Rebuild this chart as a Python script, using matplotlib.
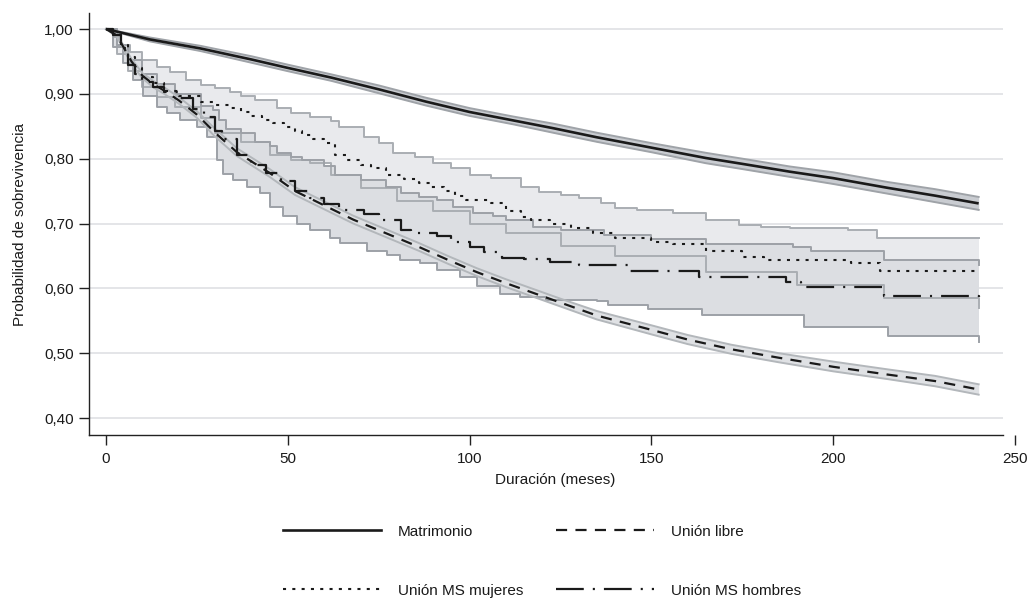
import numpy as np
import matplotlib
matplotlib.use("Agg")
import matplotlib.pyplot as plt
from matplotlib.lines import Line2D

plt.rcParams['font.family'] = ['Liberation Sans', 'DejaVu Sans']
plt.rcParams['lines.scale_dashes'] = False

# Matrimonio (solid) with its confidence band
mat_t = [0, 12, 26, 40, 50, 62, 75, 88, 100, 112, 123, 135, 150, 165, 175, 188, 200, 215, 228, 240]
mat_v = [1.0, 0.984, 0.970, 0.953, 0.94, 0.925, 0.907, 0.888, 0.872, 0.859, 0.847, 0.833, 0.817,
         0.801, 0.792, 0.78, 0.77, 0.755, 0.743, 0.731]
mat_hi = [1.0, 0.987, 0.974, 0.958, 0.945, 0.930, 0.913, 0.894, 0.878, 0.865, 0.854, 0.840, 0.824,
          0.809, 0.800, 0.788, 0.779, 0.764, 0.753, 0.741]
mat_lo = [1.0, 0.981, 0.966, 0.948, 0.935, 0.920, 0.901, 0.882, 0.866, 0.853, 0.840, 0.826, 0.810,
          0.793, 0.784, 0.772, 0.761, 0.746, 0.733, 0.721]

# Union libre (dashed)
lib_t = [0, 3, 5, 7, 10, 13, 16, 20, 25, 30, 36, 45, 52, 60, 68, 77, 86, 94, 102, 110, 118, 125,
         135, 150, 160, 172, 185, 200, 215, 228, 240]
lib_v = [1.0, 0.99, 0.97, 0.95, 0.928, 0.915, 0.905, 0.89, 0.868, 0.84, 0.81, 0.778, 0.75, 0.728,
         0.706, 0.685, 0.664, 0.644, 0.625, 0.608, 0.592, 0.578, 0.558, 0.536, 0.521, 0.506, 0.493,
         0.479, 0.467, 0.457, 0.444]
lib_hi = [1.0, 0.992, 0.973, 0.954, 0.932, 0.920, 0.910, 0.895, 0.873, 0.846, 0.816, 0.784, 0.756,
          0.734, 0.712, 0.691, 0.670, 0.650, 0.631, 0.614, 0.598, 0.584, 0.565, 0.543, 0.528, 0.513,
          0.500, 0.487, 0.475, 0.465, 0.452]
lib_lo = [1.0, 0.988, 0.967, 0.946, 0.924, 0.910, 0.900, 0.885, 0.863, 0.834, 0.804, 0.772, 0.744,
          0.722, 0.700, 0.679, 0.658, 0.638, 0.619, 0.602, 0.586, 0.572, 0.552, 0.529, 0.514, 0.499,
          0.486, 0.472, 0.460, 0.449, 0.436]

# Union MS mujeres (dotted), step curve
muj_t = [0, 2, 4, 6, 8, 10, 13, 16, 20, 26, 30, 34, 37, 40, 43, 46, 49, 52, 54, 57, 60, 63, 66, 70,
         73, 77, 82, 86, 89, 93, 96, 99, 106, 110, 114, 117, 122, 128, 134, 140, 150, 156, 165, 175,
         181, 205, 213, 240]
muj_v = [1.0, 0.99, 0.975, 0.957, 0.94, 0.926, 0.916, 0.905, 0.897, 0.888, 0.883, 0.878, 0.872,
         0.866, 0.86, 0.855, 0.849, 0.843, 0.837, 0.83, 0.824, 0.806, 0.798, 0.79, 0.785, 0.775,
         0.768, 0.762, 0.757, 0.75, 0.742, 0.737, 0.732, 0.72, 0.71, 0.705, 0.70, 0.693, 0.685,
         0.678, 0.672, 0.668, 0.657, 0.649, 0.644, 0.639, 0.626, 0.626]
muj_hi_t = [0, 2, 4, 6.6, 10, 14, 17.6, 22, 26, 30, 34, 37, 41, 47, 51, 56, 62, 64, 71, 75, 79, 85,
            90, 95, 100, 106, 114, 119, 125, 130, 136, 140, 146, 156, 165, 174, 180, 188, 204, 212, 240]
muj_hi = [1.0, 0.988, 0.975, 0.964, 0.952, 0.942, 0.933, 0.922, 0.914, 0.909, 0.903, 0.896, 0.891,
          0.878, 0.870, 0.865, 0.858, 0.849, 0.834, 0.824, 0.808, 0.803, 0.793, 0.785, 0.775, 0.770,
          0.757, 0.749, 0.744, 0.739, 0.731, 0.724, 0.721, 0.716, 0.705, 0.698, 0.695, 0.693, 0.690,
          0.677, 0.677]
muj_lo_t = [0, 3, 6, 10, 14, 19, 26, 30, 37, 45, 51, 56, 62, 70, 80, 90, 100, 110, 125, 140, 165,
            190, 214, 240]
muj_lo = [1.0, 0.962, 0.935, 0.91, 0.895, 0.88, 0.862, 0.84, 0.825, 0.805, 0.798, 0.794, 0.775,
          0.755, 0.735, 0.72, 0.70, 0.685, 0.665, 0.65, 0.625, 0.605, 0.585, 0.57]

# Union MS hombres (long dash - dot), step curve
hom_t = [0, 2, 4, 6, 8, 10, 13, 16, 20, 24, 27, 30, 32, 36, 40, 44, 48, 52, 56, 60, 64, 71, 75, 81,
         84, 91, 95, 100, 104, 109, 115, 122, 130, 144, 163, 187, 191, 214, 240]
hom_v = [1.0, 0.99, 0.97, 0.945, 0.93, 0.918, 0.91, 0.903, 0.893, 0.877, 0.865, 0.843, 0.83, 0.805,
         0.79, 0.778, 0.765, 0.75, 0.74, 0.73, 0.721, 0.714, 0.705, 0.69, 0.685, 0.68, 0.672, 0.664,
         0.656, 0.647, 0.645, 0.64, 0.636, 0.627, 0.617, 0.61, 0.602, 0.588, 0.582]
hom_hi_t = [0, 3, 6, 10, 14, 19, 26, 29.5, 31, 33, 37, 41, 45, 47, 51, 54, 60, 63, 70, 77, 81, 86,
            91, 95.5, 101, 106.5, 110, 117.5, 125, 137, 150, 165, 189, 194, 214, 240]
hom_hi = [1.0, 0.975, 0.952, 0.93, 0.915, 0.9, 0.882, 0.875, 0.86, 0.846, 0.839, 0.826, 0.819,
          0.808, 0.803, 0.798, 0.788, 0.775, 0.767, 0.757, 0.747, 0.741, 0.736, 0.726, 0.716, 0.711,
          0.705, 0.695, 0.69, 0.682, 0.676, 0.668, 0.664, 0.657, 0.644, 0.636]
hom_lo_t = [0, 2, 4.8, 7.5, 10.3, 13.9, 16.7, 20.4, 24.9, 27.7, 30.4, 32.3, 35, 38.7, 42.4, 45.1,
            48.8, 52.4, 56.1, 61.6, 64.4, 71.7, 77.2, 80.9, 86.4, 90.9, 97.4, 102, 108.4, 113.9,
            121, 135, 138, 149, 164, 192, 215, 240]
hom_lo = [1.0, 0.973, 0.947, 0.921, 0.896, 0.88, 0.87, 0.86, 0.849, 0.834, 0.798, 0.777, 0.767,
          0.757, 0.747, 0.726, 0.711, 0.70, 0.69, 0.677, 0.67, 0.657, 0.651, 0.644, 0.639, 0.628,
          0.618, 0.603, 0.592, 0.587, 0.582, 0.58, 0.575, 0.568, 0.559, 0.541, 0.526, 0.518]

labels = ['Matrimonio', 'Unión MS mujeres', 'Unión libre', 'Unión MS hombres']
yticks = [0.40, 0.50, 0.60, 0.70, 0.80, 0.90, 1.00]
xticks = [0, 50, 100, 150, 200, 250]

BLACK = '#1a1a1a'
ST_DASH = (0, (8, 6))
ST_DOT = (0, (2.2, 4.5))
ST_DDOT = (0, (20, 6.5, 1.5, 6.5))
FS = 11


def step_at(ts, vs, grid):
    idx = np.searchsorted(ts, grid, side='right') - 1
    return np.asarray(vs)[idx]


def step_band(ax, lo_t, lo, hi_t, hi, fill, edge):
    grid = np.union1d(lo_t, hi_t)
    ax.fill_between(grid, step_at(lo_t, lo, grid), step_at(hi_t, hi, grid),
                    step='post', color=fill, lw=0)
    ax.step(lo_t, lo, where='post', color=edge, lw=1.4)
    ax.step(hi_t, hi, where='post', color=edge, lw=1.4)


fig = plt.figure(figsize=(10.32, 6.02), dpi=100)
ax = fig.add_axes([89 / 1032, 1 - 435 / 602, 933.3 / 1032, 422 / 602])

ax.set_xlim(-4.68, 252)
ax.set_ylim(0.3738, 1.0247)
x_end = 246.7
ax.hlines(yticks, -4.68, x_end, color='#e4e5e8', lw=1.4, zorder=0)

# confidence bands
step_band(ax, muj_lo_t, muj_lo, muj_hi_t, muj_hi, '#e9eaed', '#aaaeb3')
step_band(ax, hom_lo_t, hom_lo, hom_hi_t, hom_hi, '#dcdee2', '#9da1a7')
ax.fill_between(lib_t, lib_lo, lib_hi, color='#dfe1e4', lw=0)
ax.plot(lib_t, lib_lo, color='#b3b7bb', lw=1.4)
ax.plot(lib_t, lib_hi, color='#b3b7bb', lw=1.4)
ax.fill_between(mat_t, mat_lo, mat_hi, color='#c9ccd1', lw=0)
ax.plot(mat_t, mat_lo, color='#9fa3a8', lw=1.4)
ax.plot(mat_t, mat_hi, color='#9fa3a8', lw=1.4)

# survival curves
ax.plot(mat_t, mat_v, color=BLACK, lw=1.9, solid_capstyle='butt')
ax.plot(lib_t, lib_v, color=BLACK, lw=1.6, linestyle=ST_DASH)
ax.step(muj_t, muj_v, where='post', color=BLACK, lw=1.5, linestyle=ST_DOT)
ax.step(hom_t, hom_v, where='post', color=BLACK, lw=1.6, linestyle=ST_DDOT)

for s in ['top', 'right']:
    ax.spines[s].set_visible(False)
ax.spines['bottom'].set_bounds(-4.68, x_end)
for s in ['left', 'bottom']:
    ax.spines[s].set_color('#222222')
    ax.spines[s].set_linewidth(1.0)

ax.set_yticks(yticks)
ax.set_yticklabels([f'{v:.2f}'.replace('.', ',') for v in yticks])
ax.set_xticks(xticks)
ax.set_xticklabels([str(v) for v in xticks])
ax.tick_params(axis='both', length=7.5, width=1.0, color='#222222', labelsize=FS,
               labelcolor='#1a1a1a', pad=3.5)
ax.tick_params(axis='x', pad=4.5)

ax.set_ylabel('Probabilidad de sobrevivencia', fontsize=FS, color='#1a1a1a', labelpad=12)
ax.set_xlabel('Duración (meses)', fontsize=FS, color='#1a1a1a', labelpad=5.5)

handles = [
    Line2D([], [], color=BLACK, lw=1.9),
    Line2D([], [], color=BLACK, lw=1.5, linestyle=ST_DOT),
    Line2D([], [], color=BLACK, lw=1.6, linestyle=ST_DASH),
    Line2D([], [], color=BLACK, lw=1.6, linestyle=ST_DDOT),
]
fig.legend(handles, labels, ncol=2, loc='upper left', bbox_to_anchor=(283 / 1032, 1 - 524.5 / 602),
           frameon=False, fontsize=FS, handlelength=6.42, handletextpad=1.11,
           columnspacing=2.1, labelspacing=2.95, borderpad=0, borderaxespad=0,
           labelcolor='#1a1a1a')

fig.savefig('out.png', dpi=100)
